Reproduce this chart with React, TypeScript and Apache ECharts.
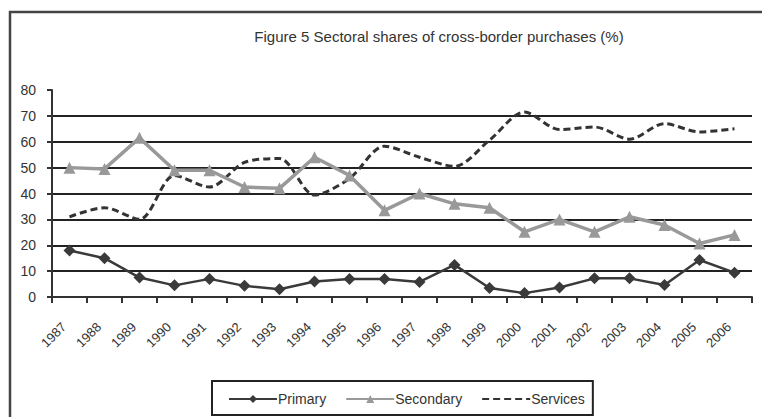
import React, { useEffect, useRef } from "react";
import * as echarts from "echarts";

const years = ["1987","1988","1989","1990","1991","1992","1993","1994","1995","1996","1997","1998","1999","2000","2001","2002","2003","2004","2005","2006"];
const primary = [18, 15, 7.5, 4.5, 7, 4.3, 3, 6, 7, 7, 5.8, 12.4, 3.5, 1.5, 3.7, 7.2, 7.2, 4.6, 14.3, 9.4];
const secondary = [50, 49.5, 61.5, 49, 49, 42.5, 42, 54, 47, 33.5, 40, 36, 34.5, 25.2, 30, 25.2, 31, 27.8, 20.7, 24];
const services = [31, 34.5, 30, 47, 42.5, 52, 53.5, 39.4, 45.8, 58.3, 54, 50.5, 60.6, 71.5, 64.7, 65.7, 61, 67, 63.8, 65];
const yTicks = { min: 0, max: 80, interval: 10 };
const titleText = "Figure 5 Sectoral shares of cross-border purchases (%)";

const FONT = "'Liberation Sans', Arial, sans-serif";

export default function App() {
  const ref = useRef<HTMLDivElement>(null);
  useEffect(() => {
    const chart = echarts.init(ref.current!, null, { renderer: "svg" });
    chart.setOption({
      animation: false,
      backgroundColor: "#ffffff",
      title: {
        text: titleText,
        left: 434,
        top: 24,
        textAlign: "center",
        textStyle: { fontFamily: FONT, fontSize: 15, fontWeight: "normal", color: "#333" },
      },
      graphic: [
        {
          type: "rect",
          shape: { x: 10, y: 12, width: 900, height: 600 },
          style: { fill: "none", stroke: "#444", lineWidth: 2.5 },
          silent: true,
        },
      ],
      legend: {
        left: 212,
        top: 381,
        padding: [11, 8, 9, 16],
        borderColor: "#222",
        borderWidth: 2,
        itemWidth: 48,
        itemHeight: 10,
        itemGap: 19,
        textStyle: { fontFamily: FONT, fontSize: 14, color: "#333", padding: [0, 0, 0, -4] },
        data: [
          { name: "Primary" },
          { name: "Secondary" },
          { name: "Services", itemStyle: { opacity: 0 } },
        ],
      },
      grid: { left: 52, right: 10, top: 90, bottom: 120, containLabel: false },
      xAxis: {
        type: "category",
        data: years,
        boundaryGap: true,
        axisLine: { lineStyle: { color: "#333", width: 2 } },
        axisTick: { show: true, length: 6, lineStyle: { color: "#333", width: 2 } },
        axisLabel: {
          rotate: 45,
          margin: 22,
          interval: 0,
          fontFamily: FONT,
          fontSize: 13,
          color: "#333",
          padding: [0, 8, 0, 0],
        },
      },
      yAxis: {
        type: "value",
        min: yTicks.min,
        max: yTicks.max,
        interval: yTicks.interval,
        axisLine: { show: true, lineStyle: { color: "#333", width: 2 } },
        axisTick: { show: true, length: 5, lineStyle: { color: "#333", width: 2 } },
        axisLabel: { margin: 16, fontFamily: FONT, fontSize: 14, color: "#333" },
        splitLine: { show: true, showMaxLine: false, lineStyle: { color: "#222", width: 2 } },
      },
      series: [
        {
          name: "Primary",
          type: "line",
          data: primary,
          symbol: "diamond",
          symbolSize: 12,
          itemStyle: { color: "#3a3a3a" },
          lineStyle: { color: "#3a3a3a", width: 2.5 },
          z: 4,
        },
        {
          name: "Secondary",
          type: "line",
          data: secondary,
          symbol: "triangle",
          symbolSize: 12,
          itemStyle: { color: "#999" },
          lineStyle: { color: "#999", width: 3.5 },
          z: 3,
        },
        {
          name: "Services",
          type: "line",
          data: services,
          smooth: 0.3,
          symbol: "none",
          showSymbol: false,
          itemStyle: { color: "#333" },
          lineStyle: { color: "#333", width: 3, type: [7, 4] },
          z: 2,
        },
      ],
    });
    return () => chart.dispose();
  }, []);
  return <div ref={ref} style={{ width: 762, height: 417, position: "fixed", left: 0, top: 0 }} />;
}
